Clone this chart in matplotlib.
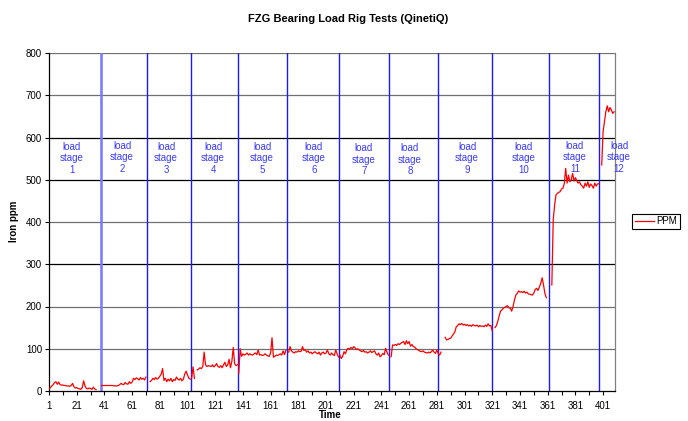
import numpy as np
import matplotlib
matplotlib.use("Agg")
import matplotlib.pyplot as plt

plt.rcParams['font.family'] = ['Liberation Sans', 'DejaVu Sans']

# === data ===
TITLE = "FZG Bearing Load Rig Tests (QinetiQ)"
SERIES_NAME = "PPM"

# first time index of each load stage's readings
stage_start = [1, 39, 74, 104, 138, 174, 211, 248, 287, 323, 364, 400]

stage_ppm = [
    [5, 8, 12, 15, 20, 22, 16, 21, 15, 14, 14, 13, 13, 12, 12, 11, 13, 18, 10, 7,
     8, 6, 5, 4, 8, 24, 12, 6, 5, 7, 6, 4, 9, 5, 3],
    [13, 13, 13, 13, 13, 13, 13, 13, 13, 12, 12, 12, 13, 15, 18, 16, 15, 20, 17, 16,
     22, 18, 21, 30, 27, 31, 29, 26, 32, 28, 30, 26, 33],
    [22, 25, 30, 27, 32, 28, 30, 35, 40, 53, 25, 30, 22, 28, 24, 30, 22, 27, 25, 33,
     28, 26, 30, 24, 28, 40, 47, 38, 30, 28],
    [31, 57, 30, np.nan, 50, 52, 55, 53, 58, 92, 62, 58, 60, 59, 58, 62, 57, 60, 65, 58,
     56, 60, 55, 62, 68, 58, 62, 75, 55, 70, 103, 65, 60, 62],
    [42, 100, 82, 88, 85, 87, 90, 85, 88, 86, 85, 88, 90, 86, 97, 85, 86, 84, 85, 88,
     85, 83, 82, 90, 126, 80, 82, 85, 84, 86, 88, 85, 95, 86, 96],
    [92, 105, 95, 92, 90, 93, 92, 95, 93, 94, 105, 96, 98, 92, 95, 90, 92, 88, 91, 93,
     90, 88, 92, 85, 90, 92, 88, 90, 97, 88, 85, 90, 86, 84, 97, 88, 80],
    [85, 77, 82, 93, 88, 98, 101, 99, 103, 100, 105, 102, 98, 100, 97, 95, 93, 96, 92, 93,
     90, 92, 95, 91, 93, 95, 88, 85, 90, 81, 84, 89, 86, 101, 92, 85],
    [81, 109, 108, 110, 108, 112, 110, 113, 115, 117, 110, 119, 112, 117, 106, 110, 105, 104, 100, 98,
     96, 94, 93, 95, 92, 91, 90, 92, 90, 93, 97, 92, 89, 97, 89, 85, 92],
    [127, 121, 122, 124, 125, 130, 135, 140, 152, 155, 159, 157, 160, 156, 158, 155, 157, 154, 156, 153,
     157, 155, 154, 156, 152, 155, 153, 154, 152, 156, 153, 159, 154, 155, 142],
    [150, 155, 165, 178, 189, 192, 196, 198, 200, 202, 197, 196, 189, 200, 215, 227, 231, 237, 234, 235,
     233, 236, 232, 234, 230, 229, 228, 227, 232, 240, 243, 238, 246, 255, 268, 251, 231, 221],
    [251, 405, 440, 464, 468, 470, 472, 478, 480, 491, 527, 492, 511, 495, 500, 515, 497, 505, 498, 492,
     495, 488, 485, 480, 492, 485, 495, 482, 490, 486, 480, 492, 485, 490, 491],
    [535, 614, 637, 661, 675, 661, 671, 665, 657, 661],
]

# boundaries between load stages (blue verticals)
stage_bounds = [38.4, 72, 103.7, 137.7, 172.8, 210.6, 246.5, 282.1, 321.1, 361.8, 398.3]
# centre of each "load stage N" label
label_x = [17.6, 53.7, 85.5, 119.4, 154.8, 192.3, 228.4, 261.6, 302.8, 343.9, 380.7, 412.5]
label_y = [551, 553, 551, 551, 551, 551, 547, 547, 551, 551, 553, 553]

y_ticks = [0, 100, 200, 300, 400, 500, 600, 700, 800]
hline_levels = [100, 200, 300, 400, 500, 600, 700, 800]
hline_colours = ['#707070', '#707070', 'black', '#707070', 'black', 'black', '#707070', '#707070']

X_MAX = 409.6

# build one series, broken between stages
xs, ys = [], []
for start, vals in zip(stage_start, stage_ppm):
    xs.extend(range(start, start + len(vals)))
    ys.extend(vals)
    xs.append(np.nan)
    ys.append(np.nan)
xs = np.array(xs, dtype=float)
ys = np.array(ys, dtype=float)

fig = plt.figure(figsize=(6.88, 4.21), dpi=100)
ax = fig.add_axes([49 / 688, 1 - 391 / 421, 566 / 688, 338 / 421])

for lvl, col in zip(hline_levels, hline_colours):
    ax.axhline(lvl, color=col, lw=0.9, zorder=1)

for i, b in enumerate(stage_bounds):
    if i == 0:
        ax.axvline(b, color='#7777ff', lw=1.8, zorder=2)
    else:
        ax.axvline(b, color='#1a1aff', lw=1.0, zorder=2)

ax.plot(xs, ys, color='#ff0000', lw=0.9, label=SERIES_NAME, zorder=3)

for n, (lx, ly) in enumerate(zip(label_x, label_y), start=1):
    ax.text(lx, ly, f"load\nstage\n{n}", ha='center', va='center', color='#3a3aff',
            fontsize=7, linespacing=1.2, clip_on=False, zorder=4)

ax.set_xlim(1, X_MAX)
ax.set_ylim(0, 800)
ax.set_yticks(y_ticks)
ax.set_yticklabels([str(v) for v in y_ticks])
xt = list(range(1, 410, 10))
ax.set_xticks(xt)
ax.set_xticklabels([str(v) if (v - 1) % 20 == 0 else '' for v in xt])
ax.tick_params(axis='both', direction='out', length=3, width=0.8, labelsize=7, colors='black', pad=2)
ax.tick_params(axis='x', pad=4)

ax.spines['top'].set_visible(False)
ax.spines['right'].set_color('#808080')
ax.spines['left'].set_color('black')
ax.spines['bottom'].set_color('black')
for s in ax.spines.values():
    s.set_linewidth(0.9)

leg = ax.legend(loc='center left', bbox_to_anchor=(632 / 688, 1 - 221.5 / 421),
                bbox_transform=fig.transFigure, fontsize=7, frameon=True, fancybox=False,
                edgecolor='black', framealpha=1, borderpad=0.3, handlelength=2.0,
                handletextpad=0.2, borderaxespad=0)
leg.get_frame().set_linewidth(0.8)

fig.text(348 / 688, 1 - 19 / 421, TITLE, ha='center', va='center', fontsize=8, fontweight='bold')
fig.text(14 / 688, 1 - 221 / 421, "Iron ppm", ha='center', va='center', rotation=90,
         fontsize=7, fontweight='bold')
# the reference crops this label at the bottom edge; keep it just inside
fig.text(330 / 688, 1 / 421, "Time", ha='center', va='bottom', fontsize=7, fontweight='bold')

fig.savefig("out.png", dpi=100)
